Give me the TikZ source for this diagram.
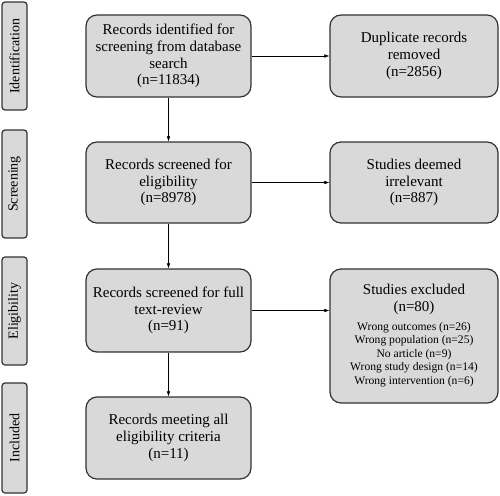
\documentclass[tikz,border=0pt]{standalone}
\usepackage{fontspec}
\setmainfont{Liberation Serif}
\usetikzlibrary{arrows.meta}
\definecolor{boxfill}{HTML}{D9D9D9}
\definecolor{boxline}{HTML}{333333}
\begin{document}
\begin{tikzpicture}[x=1pt,y=-1pt,
  mainbox/.style={draw=boxline,line width=1.2pt,fill=boxfill,rounded corners=11pt,
    align=center,inner sep=2pt,font=\fontsize{15}{16.8}\selectfont},
  sidebox/.style={draw=boxline,line width=1.2pt,fill=boxfill,rounded corners=3pt,
    minimum width=108pt,minimum height=25pt,rotate=90,inner sep=0pt,
    font=\fontsize{14}{16}\selectfont},
  arr/.style={draw=black,line width=0.6pt,-{Latex[length=5pt,width=3.6pt]}}]
\useasboundingbox (0,0) rectangle (500,495);
% side labels
\node[sidebox] (sid) at (14.5,56) {Identification};
\node[sidebox] (sscr) at (14.5,184) {Screening};
\node[sidebox] (seli) at (14.5,311) {Eligibility};
\node[sidebox,minimum width=110pt] (sinc) at (14.5,438) {Included};
% main column
\node[mainbox,minimum width=165pt,minimum height=82pt] (b1) at (168.5,56)
  {Records identified for\\screening from database\\search\\(n=11834)};
\node[mainbox,minimum width=165pt,minimum height=81pt] (b2) at (168.5,182.5)
  {Records screened for\\eligibility\\(n=8978)};
\node[mainbox,minimum width=165pt,minimum height=83pt] (b3) at (168.5,310.5)
  {Records screened for full\\text-review\\(n=91)};
\node[mainbox,minimum width=165pt,minimum height=82pt] (b4) at (168.5,438)
  {Records meeting all\\eligibility criteria\\(n=11)};
% right column
\node[mainbox,minimum width=168pt,minimum height=82pt] (r1) at (414,56)
  {Duplicate records\\removed\\(n=2856)};
\node[mainbox,minimum width=168pt,minimum height=81pt] (r2) at (414,182.5)
  {Studies deemed\\irrelevant\\(n=887)};
\node[mainbox,minimum width=168pt,minimum height=134pt] (r3) at (414,336)
  {Studies excluded\\(n=80)\\[6pt]
   {\fontsize{11.6}{13.4}\selectfont\begin{tabular}{@{}c@{}}Wrong outcomes (n=26)\\Wrong population (n=25)\\No article (n=9)\\Wrong study design (n=14)\\Wrong intervention (n=6)\end{tabular}}};
% arrows
\draw[arr] (b1) -- (b2);
\draw[arr] (b2) -- (b3);
\draw[arr] (b3) -- (b4);
\draw[arr] (b1) -- (r1);
\draw[arr] (b2) -- (r2);
\draw[arr] (b3.east) -- (b3.east -| r3.west);
\end{tikzpicture}
\end{document}
